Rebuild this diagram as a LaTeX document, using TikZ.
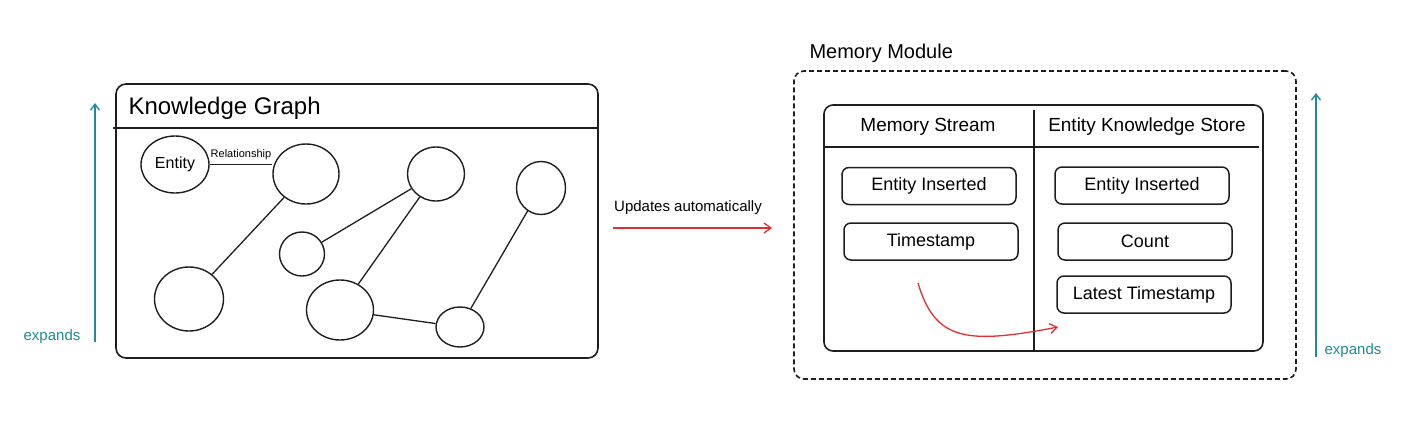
\documentclass[tikz,border=0pt]{standalone}
\usepackage{fontspec}
\setmainfont{Liberation Sans}
\usetikzlibrary{arrows.meta,shapes.geometric,positioning}
\definecolor{sketchink}{HTML}{1E1E1E}
\definecolor{sketchteal}{HTML}{1F8A9A}
\definecolor{sketchred}{HTML}{E03131}

\begin{document}
\begin{tikzpicture}[x=1pt, y=-1pt,
  panel/.style={draw=sketchink, line width=1.6pt, rounded corners=10pt},
  entity/.style={draw=sketchink, line width=1.4pt, ellipse, inner sep=0pt},
  link/.style={draw=sketchink, line width=1.3pt},
  field/.style={draw=sketchink, line width=1.5pt, rounded corners=7pt,
    minimum width=174pt, minimum height=37pt, font=\fontsize{18}{20}\selectfont},
  expandarrow/.style={sketchteal, line width=1.4pt, -{Straight Barb[length=6pt,width=9pt]}},
  flow/.style={sketchred, line width=1.3pt, -{Straight Barb[length=7pt,width=10pt]}}]
  \useasboundingbox (0,0) rectangle (1409,421);

  % Knowledge graph panel
  \node[panel, minimum width=482pt, minimum height=274pt] (kg) at (357,221) {};
  \draw[link, line width=1.5pt] ([xshift=-2pt,yshift=-45pt]kg.north west) -- ([xshift=-2pt,yshift=-45pt]kg.north east);
  \node[anchor=west, font=\fontsize{24}{26}\selectfont] (kgtitle) at (125,108) {Knowledge Graph};

  % Entities
  \node[entity, minimum width=68pt, minimum height=57pt, font=\fontsize{16}{18}\selectfont] (ent) at (175,164.5) {Entity};
  \foreach \n/\x/\y/\w/\h in {e2/306/174/66/60, e3/436/174/57/54, e4/541/188/49/53,
    e5/302/254/45/44, e6/189/299/69/64, e7/340/310/67/60, e8/460/327/48/40}
    \node[entity, minimum width=\w pt, minimum height=\h pt] (\n) at (\x,\y) {};

  % Relationships
  \draw[link] (ent.east) -- (ent.east -| e2.west)
    node[midway, above=1pt, font=\fontsize{11}{12}\selectfont] (rel) {Relationship};
  \draw[link] (e2) -- (e6);
  \draw[link] (e3) -- (e5);
  \draw[link] (e3) -- (e7);
  \draw[link] (e7) -- (e8);
  \draw[link] (e4) -- (e8);

  % Left expands arrow
  \coordinate (exl-s) at (95,342);
  \coordinate (exl-e) at (95,103);
  \draw[expandarrow] (exl-s) -- (exl-e);
  \node[sketchteal, font=\fontsize{15}{17}\selectfont] (exl) at (52,337) {expands};

  % Update arrow
  \coordinate (upd-s) at (613,228);
  \coordinate (upd-e) at (772,228);
  \draw[flow] (upd-s) -- (upd-e);
  \node[font=\fontsize{15}{17}\selectfont] (upd) at (688,208) {Updates automatically};

  % Memory module
  \node[anchor=west, font=\fontsize{20}{22}\selectfont] (mmtitle) at (806,53) {Memory Module};
  \node[panel, dash pattern=on 5pt off 3pt, minimum width=502pt, minimum height=308pt] (mm) at (1045,225) {};
  \node[panel, rounded corners=9pt, minimum width=439pt, minimum height=246pt] (store) at (1043.5,228) {};
  \draw[link, line width=1.5pt] ([yshift=-6pt]store.north -| 1034,0) -- (store.south -| 1034,0);
  \draw[link, line width=1.5pt] (store.west |- 0,147) -- ([xshift=-5pt]store.east |- 0,147);
  \node[font=\fontsize{19}{21}\selectfont] (mstitle) at (928,127) {Memory Stream};
  \node[font=\fontsize{19}{21}\selectfont] (kstitle) at (1147,127) {Entity Knowledge Store};

  \node[field] (ms1) at (929,186) {Entity Inserted};
  \node[field] (ms2) at (931,241.5) {Timestamp};
  \node[field] (ks1) at (1142,185.5) {Entity Inserted};
  \node[field] (ks2) at (1145,241.5) {Count};
  \node[field] (ks3) at (1144,294.5) {Latest Timestamp};

  \coordinate (cpy-s) at (918,283);
  \coordinate (cpy-e) at (1058,327);
  \draw[flow] (cpy-s) .. controls (935,340) and (965,345) .. (cpy-e);

  % Right expands arrow
  \coordinate (exr-s) at (1316,357);
  \coordinate (exr-e) at (1316,93);
  \draw[expandarrow] (exr-s) -- (exr-e);
  \node[sketchteal, font=\fontsize{15}{17}\selectfont] (exr) at (1353,351) {expands};
\end{tikzpicture}
\end{document}
